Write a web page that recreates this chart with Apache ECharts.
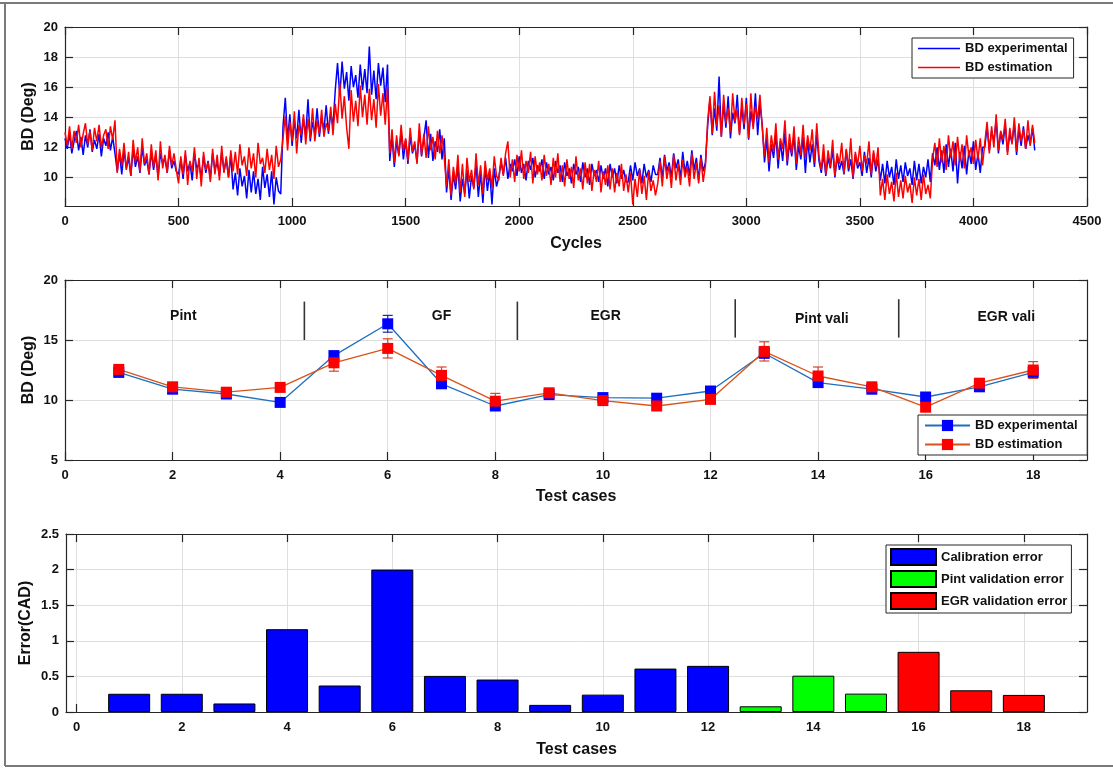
<!DOCTYPE html>
<html>
<head>
<meta charset="utf-8">
<script src="https://cdn.jsdelivr.net/npm/echarts@6/dist/echarts.min.js"></script>
<style>
html,body{margin:0;padding:0;background:#fff;}
#c{width:1113px;height:768px;}
</style>
</head>
<body>
<div id="c"></div>
<script>
// ---------------- DATA ----------------
// Panel 1: BD traces, one sample every CYCLE_STEP cycles
const CYCLE_STEP = 10;
const bdExperimental = [
  // 0-220
  12.6,11.9,12.9,11.6,12.4,13.1,11.8,12.7,11.5,12.8,12.0,13.2,11.7,12.5,11.9,12.9,11.4,12.6,12.1,13.0,11.8,12.7,11.6,
  // 230-490
  10.4,11.6,10.2,11.8,10.6,11.3,10.1,11.9,10.7,11.4,10.3,12.0,10.8,11.2,10.2,11.7,10.5,11.5,10.0,11.6,10.9,11.3,10.3,11.8,10.6,11.1,10.4,
  // 500-730
  10.2,11.2,9.9,11.5,10.4,11.0,9.8,11.6,10.6,10.9,10.0,11.4,10.3,11.1,9.9,11.6,10.5,11.0,10.1,11.7,10.4,11.2,10.0,11.5,
  // 740-950
  9.2,10.3,8.8,10.6,9.4,10.1,8.6,10.5,9.0,10.4,8.9,9.9,8.5,10.7,9.3,10.2,8.7,10.4,8.2,10.0,9.1,8.9,
  // 960-1180
  13.4,15.3,12.5,14.2,12.1,13.8,12.6,14.5,12.3,13.9,12.8,15.2,12.4,13.7,12.9,14.6,12.7,14.0,13.1,14.8,12.9,14.3,13.4,
  // 1190-1420
  15.8,17.6,15.4,17.7,15.9,17.0,15.1,17.4,16.0,16.8,15.3,17.5,15.8,17.2,15.6,18.7,15.5,17.1,15.2,17.6,16.1,17.3,15.0,17.5,
  // 1430-1670
  11.1,12.7,10.7,12.4,11.5,13.0,11.2,12.5,10.9,12.8,11.6,12.2,11.0,13.1,11.4,12.6,13.8,11.3,12.9,11.1,12.4,11.7,13.2,11.2,12.6,
  // 1680-1900
  9.0,10.6,8.5,10.2,9.2,10.8,8.4,9.9,8.9,10.5,8.6,10.1,9.3,10.9,8.7,10.3,8.3,10.7,9.1,10.4,8.2,10.6,9.4,
  // 1910-2470
  10.0,11.0,10.2,11.3,9.9,10.9,10.4,11.2,10.1,11.4,10.3,10.9,9.8,11.1,10.5,11.3,10.0,10.8,10.4,11.2,
  9.9,11.0,10.2,10.7,9.8,11.1,10.3,10.8,9.7,11.0,10.1,10.6,9.6,10.9,10.2,10.7,9.7,11.0,10.0,10.6,
  9.5,10.9,10.1,10.5,9.7,10.8,9.9,10.6,9.4,10.9,10.0,10.6,9.6,10.8,9.9,10.5,9.7,
  // 2480-2600
  9.7,10.8,9.8,11.0,10.1,10.6,9.6,10.9,10.0,10.5,9.7,10.8,10.2,
  // 2610-2820
  10.2,11.3,9.9,11.5,10.4,11.0,10.0,11.6,10.6,11.2,9.9,11.7,10.3,11.1,10.1,11.8,10.5,11.3,9.8,11.5,10.4,11.0,
  // 2830-3070
  13.5,15.2,12.8,14.6,13.1,16.7,12.7,14.9,13.3,15.4,12.6,14.3,13.6,15.5,12.9,14.7,13.2,15.3,12.5,14.4,13.4,15.6,12.8,14.9,13.5,
  // 3080-3320
  11.0,12.6,10.4,12.2,11.3,12.9,10.6,12.4,11.1,13.0,10.8,12.3,11.4,12.8,10.5,12.1,11.2,12.7,10.3,12.5,11.0,12.2,10.7,12.9,11.1,
  // 3330-3580
  10.3,11.6,10.1,11.3,10.6,11.9,10.0,11.4,10.5,11.1,10.2,11.8,10.4,11.2,9.9,11.5,10.6,11.0,10.1,11.7,10.3,11.3,10.0,11.6,10.4,11.2,
  // 3590-3810
  9.8,10.9,9.6,11.1,10.0,10.7,9.5,11.2,9.9,10.8,9.7,11.0,10.1,10.6,9.5,11.1,9.8,10.9,9.6,10.7,10.0,11.2,9.7,
  // 3820-4040
  11.6,10.8,12.0,10.5,11.8,10.3,12.2,10.7,11.9,10.4,12.3,9.6,11.7,10.6,12.1,10.2,11.8,10.9,12.4,10.5,11.6,10.3,12.0,
  // 4050-4270
  12.0,13.4,11.8,13.1,12.4,13.8,11.6,13.0,12.2,13.5,11.7,12.9,12.3,13.6,11.5,13.2,12.1,13.4,11.9,12.8,12.2,13.3,11.8
];
const bdEstimation = [
  13.0,12.1,13.4,11.9,13.1,12.3,13.5,12.0,12.9,13.6,12.2,13.1,11.8,13.3,12.4,13.5,12.0,12.8,13.2,11.9,13.4,12.5,13.8,
  10.3,11.9,10.8,12.3,10.5,11.7,10.1,12.5,11.0,12.0,10.4,12.6,10.9,11.6,10.2,12.2,10.7,11.8,9.8,12.4,10.6,11.5,10.3,12.1,10.8,11.6,10.5,
  9.6,11.4,10.2,11.8,9.5,11.1,10.4,12.0,9.9,11.3,9.4,11.7,10.5,11.0,9.7,11.9,10.2,11.5,9.8,12.1,10.3,11.4,10.0,11.8,
  10.4,11.7,10.2,12.2,10.8,11.4,10.1,12.0,10.6,11.6,10.0,12.3,10.9,11.3,10.3,11.9,10.5,11.5,9.9,12.1,10.7,11.2,
  12.6,14.1,11.8,13.7,12.4,14.4,11.6,13.5,12.8,14.2,12.2,13.9,12.6,14.6,12.4,13.8,12.9,14.5,12.7,13.6,13.1,14.7,12.8,
  14.9,13.6,16.3,13.9,15.4,13.3,11.9,15.8,13.7,15.1,13.4,16.1,14.0,15.5,13.5,15.9,13.8,15.2,13.3,16.2,14.1,15.6,13.5,16.0,
  11.6,13.2,11.0,12.8,11.4,13.5,11.8,12.6,11.1,13.3,11.7,12.4,10.9,13.6,11.5,12.9,11.3,13.4,11.8,12.7,11.2,13.1,11.6,12.8,11.3,
  9.4,11.2,8.8,10.7,9.6,11.5,9.0,10.9,8.7,11.3,9.7,10.5,9.2,11.6,9.5,10.8,8.9,11.1,9.8,10.6,9.3,11.4,10.1,
  9.8,11.3,10.1,11.6,12.4,10.0,11.2,9.7,11.5,10.4,11.8,9.9,11.1,10.3,11.7,9.6,11.4,10.2,11.0,9.8,
  11.5,10.1,10.9,9.5,11.3,10.0,11.6,9.7,10.8,9.4,11.2,9.9,10.7,9.3,11.4,9.8,10.6,9.2,11.0,9.6,
  10.9,9.1,10.5,9.7,11.1,9.0,10.4,9.5,10.8,9.2,10.6,9.0,10.3,9.4,10.9,9.1,10.2,
  9.0,10.3,8.2,9.9,8.7,10.5,8.9,10.1,8.5,10.4,9.1,9.8,8.8,
  9.6,11.1,9.4,11.4,9.9,10.8,9.3,11.5,9.8,10.9,9.5,11.2,10.0,10.7,9.4,11.6,9.9,11.0,9.6,11.3,9.7,10.8,
  13.8,15.4,12.9,15.7,13.4,14.8,12.7,15.5,13.6,14.6,13.0,15.6,13.7,14.5,12.8,15.3,13.5,14.9,12.6,15.6,13.2,14.7,13.9,15.5,13.3,
  11.4,13.3,11.0,12.8,11.7,13.6,11.2,12.6,11.9,13.8,11.1,12.9,11.6,13.4,10.9,12.7,11.5,13.5,11.3,12.8,11.8,13.2,11.0,13.6,11.4,
  10.5,12.2,10.2,11.8,10.7,12.5,10.1,11.6,10.9,12.3,10.3,11.9,10.6,12.6,10.0,11.7,10.8,12.1,10.4,11.5,10.9,12.4,10.2,11.8,10.7,12.0,
  8.8,9.9,8.5,10.2,8.9,9.7,8.4,10.3,8.7,9.8,8.6,10.1,9.0,9.6,8.3,10.0,8.8,9.9,8.5,10.2,8.9,9.5,8.6,
  11.2,12.3,10.7,12.6,11.0,12.1,10.5,12.8,11.3,12.4,10.8,12.7,11.1,12.2,10.6,12.8,11.4,12.0,10.9,12.5,11.2,12.6,10.8,
  12.3,13.7,11.6,13.4,12.0,14.2,11.8,13.1,12.5,13.9,11.5,13.3,12.2,14.0,11.7,13.6,12.4,13.2,11.9,13.8,12.1,13.5,12.3
];

// Panel 2: per test case mean BD with error bars
const testCases = [1,2,3,4,5,6,7,8,9,10,11,12,13,14,15,16,17,18];
const bdExpMean = [12.3,10.9,10.5,9.8,13.7,16.35,11.35,9.5,10.45,10.2,10.15,10.75,13.9,11.45,10.9,10.25,11.1,12.3];
const bdExpErr  = [0.3,0.3,0.3,0.3,0.3,0.7,0.3,0.3,0.3,0.3,0.3,0.3,0.4,0.3,0.3,0.3,0.3,0.3];
const bdEstMean = [12.55,11.1,10.65,11.05,13.1,14.3,12.05,9.9,10.6,9.95,9.5,10.05,14.05,12.0,11.1,9.4,11.4,12.5];
const bdEstErr  = [0.3,0.3,0.3,0.35,0.7,0.8,0.7,0.65,0.3,0.3,0.3,0.3,0.8,0.75,0.35,0.3,0.35,0.7];
const sectionNames = ['Pint','GF','EGR','Pint vali','EGR vali'];
const sectionLabelX = [2.2,7.0,10.05,14.07,17.5];
const sectionLabelY = [17.0,17.0,17.0,16.7,16.9];
const separatorX = [4.45,8.41,12.46,15.5];
const separatorY0 = [15.0,15.0,15.2,15.2];
const separatorY1 = [18.2,18.2,18.4,18.4];

// Panel 3: error per test case
const calibrationCases = [1,2,3,4,5,6,7,8,9,10,11,12];
const calibrationError = [0.256,0.256,0.12,1.163,0.372,2.0,0.507,0.456,0.10,0.244,0.61,0.648];
const pintCases = [13,14,15];
const pintValidationError = [0.08,0.51,0.258];
const egrCases = [16,17,18];
const egrValidationError = [0.845,0.305,0.24];

// Tick labels
const bdTicks1 = [10,12,14,16,18,20];
const caseTicks = [0,2,4,6,8,10,12,14,16,18];

// ---------------- STYLE ----------------
const FONT = '"Liberation Sans", Arial, Helvetica, sans-serif';
const AXC = '#262626';
const GRIDC = '#dedede';
const tickFont = {color:'#111', fontFamily:FONT, fontWeight:'bold', fontSize:13};
const nameFont = {color:'#111', fontFamily:FONT, fontWeight:'bold', fontSize:16};
const LINE_ICON = 'path://M0,0h60v2.4h-60z';

function axisBase(gridIndex, min, max, position, main, extra) {
  const a = {
    type:'value', gridIndex, min, max, position,
    axisLine:{show:true, onZero:false, lineStyle:{color:AXC, width:1.2}},
    axisTick:{show:true, inside:true, length:8, lineStyle:{color:AXC, width:1.2}},
    axisLabel:Object.assign({show:main, margin:(position==='bottom'||position==='top')?9:7,
      formatter:(v) => String(v)}, tickFont),
    splitLine:{show:main, lineStyle:{color:GRIDC, width:1}},
    nameTextStyle:nameFont, nameLocation:'middle', nameMoveOverlap:false
  };
  if (extra) {
    if (extra.interval !== undefined) a.interval = extra.interval;
    if (extra.ticks) { a.axisLabel.customValues = extra.ticks; a.axisTick.customValues = extra.ticks; }
    if (extra.name && main) { a.name = extra.name; a.nameGap = extra.nameGap; }
  }
  return a;
}

const xAxes = [
  axisBase(0, 0, 4500, 'bottom', true, {interval:500, name:'Cycles', nameGap:30}),
  axisBase(0, 0, 4500, 'top', false, {interval:500}),
  axisBase(1, 0, 19, 'bottom', true, {ticks:caseTicks, name:'Test cases', nameGap:29}),
  axisBase(1, 0, 19, 'top', false, {ticks:caseTicks}),
  axisBase(2, -0.2, 19.2, 'bottom', true, {ticks:caseTicks, name:'Test cases', nameGap:30}),
  axisBase(2, -0.2, 19.2, 'top', false, {ticks:caseTicks})
];
const yAxes = [
  axisBase(0, 8.1, 20, 'left', true, {ticks:bdTicks1, name:'BD (Deg)', nameGap:28}),
  axisBase(0, 8.1, 20, 'right', false, {ticks:bdTicks1}),
  axisBase(1, 5, 20, 'left', true, {interval:5, name:'BD (Deg)', nameGap:28}),
  axisBase(1, 5, 20, 'right', false, {interval:5}),
  axisBase(2, 0, 2.5, 'left', true, {interval:0.5, name:'Error(CAD)', nameGap:32}),
  axisBase(2, 0, 2.5, 'right', false, {interval:0.5})
];

function errorBars(values, errs, color) {
  return {
    type:'custom', xAxisIndex:2, yAxisIndex:2, silent:true,
    encode:{x:0, y:[1,2]},
    data: testCases.map((c,i) => [c, values[i]-errs[i], values[i]+errs[i]]),
    renderItem(params, api) {
      const lo = api.coord([api.value(0), api.value(1)]);
      const hi = api.coord([api.value(0), api.value(2)]);
      const w = 5, st = {stroke:color, lineWidth:1.2};
      return {type:'group', children:[
        {type:'line', shape:{x1:lo[0],y1:lo[1],x2:hi[0],y2:hi[1]}, style:st},
        {type:'line', shape:{x1:lo[0]-w,y1:lo[1],x2:lo[0]+w,y2:lo[1]}, style:st},
        {type:'line', shape:{x1:hi[0]-w,y1:hi[1],x2:hi[0]+w,y2:hi[1]}, style:st}
      ]};
    }
  };
}

const legendBase = {
  orient:'vertical', backgroundColor:'#fff', borderColor:AXC, borderWidth:1, borderRadius:0,
  textStyle:{color:'#111', fontFamily:FONT, fontWeight:'bold', fontSize:13},
  selectedMode:false
};

const option = {
  animation:false,
  backgroundColor:'#fff',
  grid:[
    {left:65, top:27, width:1022, height:179},
    {left:65, top:280, width:1022, height:180},
    {left:66, top:534, width:1021, height:178}
  ],
  xAxis:xAxes,
  yAxis:yAxes,
  legend:[
    Object.assign({}, legendBase, {left:912, top:38, padding:[4,6,4,6], itemGap:6, itemWidth:42, itemHeight:14,
      data:[{name:'BD experimental', icon:LINE_ICON}, {name:'BD estimation', icon:LINE_ICON}]}),
    Object.assign({}, legendBase, {left:918, top:415, padding:[4,6,4,6], itemGap:6, itemWidth:45, itemHeight:14,
      data:['BD experimental ','BD estimation ']}),
    Object.assign({}, legendBase, {left:886, top:545, padding:[3,4,3,4], itemGap:4, itemWidth:45, itemHeight:16, icon:'rect',
      data:['Calibration error','Pint validation error','EGR validation error']})
  ],
  graphic:[
    {type:'line', shape:{x1:0,y1:3,x2:1113,y2:3}, style:{stroke:'#7a7a7a', lineWidth:2}, silent:true},
    {type:'line', shape:{x1:5,y1:3,x2:5,y2:766}, style:{stroke:'#7a7a7a', lineWidth:2}, silent:true},
    {type:'line', shape:{x1:5,y1:766,x2:1113,y2:766}, style:{stroke:'#7a7a7a', lineWidth:2}, silent:true}
  ],
  series:[
    // Panel 1
    {type:'line', name:'BD experimental', xAxisIndex:0, yAxisIndex:0, symbol:'none',
      data: bdExperimental.map((v,i) => [i*CYCLE_STEP, v]),
      lineStyle:{color:'#0000FF', width:1.5}, itemStyle:{color:'#0000FF'}},
    {type:'line', name:'BD estimation', xAxisIndex:0, yAxisIndex:0, symbol:'none',
      data: bdEstimation.map((v,i) => [i*CYCLE_STEP, v]),
      lineStyle:{color:'#FF0000', width:1.5}, itemStyle:{color:'#FF0000'}},
    // Panel 2
    errorBars(bdExpMean, bdExpErr, '#1a2fa0'),
    {type:'line', name:'BD experimental ', xAxisIndex:2, yAxisIndex:2, symbol:'rect', symbolSize:11,
      data: testCases.map((c,i) => [c, bdExpMean[i]]),
      lineStyle:{color:'#1f6fbf', width:1.3}, itemStyle:{color:'#0000FF'}},
    errorBars(bdEstMean, bdEstErr, '#D2452A'),
    {type:'line', name:'BD estimation ', xAxisIndex:2, yAxisIndex:2, symbol:'rect', symbolSize:11,
      data: testCases.map((c,i) => [c, bdEstMean[i]]),
      lineStyle:{color:'#D95319', width:1.3}, itemStyle:{color:'#FF0000'}},
    {type:'custom', xAxisIndex:2, yAxisIndex:2, silent:true,
      data: separatorX.map((x,i) => [x, separatorY0[i], separatorY1[i]]),
      renderItem(params, api) {
        const a = api.coord([api.value(0), api.value(1)]);
        const b = api.coord([api.value(0), api.value(2)]);
        return {type:'line', shape:{x1:a[0],y1:a[1],x2:b[0],y2:b[1]}, style:{stroke:'#333', lineWidth:1.6}};
      }},
    {type:'custom', xAxisIndex:2, yAxisIndex:2, silent:true,
      data: sectionLabelX.map((x,i) => [x, sectionLabelY[i]]),
      renderItem(params, api) {
        const p = api.coord([api.value(0), api.value(1)]);
        return {type:'text', x:p[0], y:p[1], style:{text:sectionNames[params.dataIndex], fill:'#111',
          font:'bold 14px ' + FONT, align:'center', verticalAlign:'middle'}};
      }},
    // Panel 3
    {type:'bar', name:'Calibration error', xAxisIndex:4, yAxisIndex:4, barWidth:42, barGap:'-100%',
      data: calibrationCases.map((c,i) => [c, calibrationError[i]]),
      itemStyle:{color:'#0000FF', borderColor:'#000', borderWidth:1}},
    {type:'bar', name:'Pint validation error', xAxisIndex:4, yAxisIndex:4, barWidth:42, barGap:'-100%',
      data: pintCases.map((c,i) => [c, pintValidationError[i]]),
      itemStyle:{color:'#00FF00', borderColor:'#000', borderWidth:1}},
    {type:'bar', name:'EGR validation error', xAxisIndex:4, yAxisIndex:4, barWidth:42, barGap:'-100%',
      data: egrCases.map((c,i) => [c, egrValidationError[i]]),
      itemStyle:{color:'#FF0000', borderColor:'#000', borderWidth:1}}
  ]
};

const chart = echarts.init(document.getElementById('c'), null, {renderer:'canvas'});
chart.setOption(option);
</script>
</body>
</html>
